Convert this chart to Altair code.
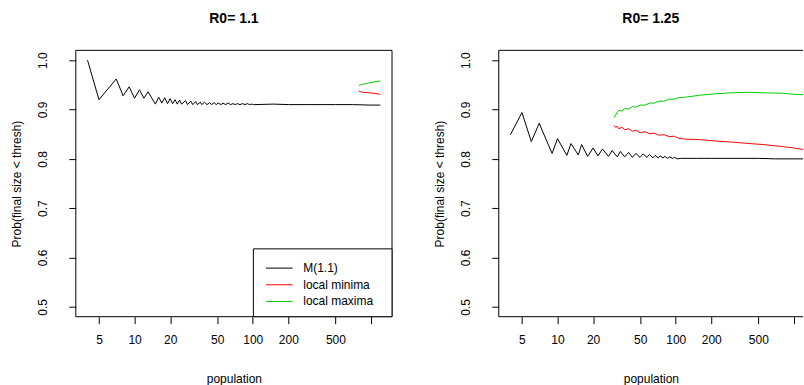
import altair as alt
import pandas as pd

# ---------------- data ----------------
# Left panel, R0 = 1.1
left_black_n = [4, 5, 7, 8, 9, 10, 11, 12, 13, 15, 16, 17, 18, 19, 20, 21, 22, 23, 24, 25,
                27, 28, 30, 31, 33, 34, 36, 37, 39, 41, 43, 45, 47, 49, 51, 54, 56, 59, 62, 65,
                68, 71, 74, 78, 82, 86, 90, 94, 98, 102, 104, 150, 200, 300, 400, 500, 700, 1000, 1200]
left_black_p = [1.000, 0.920, 0.962, 0.928, 0.946, 0.923, 0.940, 0.923, 0.936, 0.911, 0.925, 0.913, 0.924, 0.912, 0.922, 0.912, 0.920, 0.911, 0.919, 0.911,
                0.918, 0.910, 0.917, 0.910, 0.916, 0.910, 0.915, 0.910, 0.915, 0.910, 0.914, 0.910, 0.914, 0.910, 0.913, 0.910, 0.913, 0.910, 0.913, 0.910,
                0.912, 0.910, 0.912, 0.910, 0.912, 0.910, 0.912, 0.910, 0.911, 0.910, 0.910, 0.911, 0.910, 0.910, 0.910, 0.910, 0.910, 0.909, 0.909]
left_red_n = [790, 850, 960, 1050, 1200]
left_red_p = [0.937, 0.935, 0.934, 0.933, 0.931]
left_green_n = [790, 850, 960, 1050, 1200]
left_green_p = [0.949, 0.951, 0.954, 0.956, 0.958]

# Right panel, R0 = 1.25
right_black_n = [4, 5, 6, 7, 9, 10, 12, 13, 15, 16, 18, 20, 22, 24, 27, 29, 32, 34, 37, 40,
                 43, 46, 50, 53, 57, 60, 64, 67, 71, 74, 78, 81, 85, 89, 94, 98, 103, 110, 150, 200,
                 300, 500, 700, 1000, 1200]
right_black_p = [0.849, 0.894, 0.835, 0.872, 0.811, 0.841, 0.807, 0.831, 0.808, 0.829, 0.805, 0.822, 0.806, 0.820, 0.805, 0.817, 0.804, 0.815, 0.804, 0.813,
                 0.803, 0.811, 0.803, 0.810, 0.803, 0.809, 0.802, 0.807, 0.802, 0.806, 0.802, 0.805, 0.801, 0.804, 0.801, 0.803, 0.800, 0.801, 0.801, 0.801,
                 0.801, 0.801, 0.800, 0.800, 0.800]
right_red_n = [30, 31, 32, 33, 35, 37, 40, 43, 46, 50, 55, 60, 66, 72, 80, 88, 97, 105, 120, 159,
               220, 300, 420, 550, 800, 1000, 1200]
right_red_p = [0.868, 0.864, 0.866, 0.861, 0.864, 0.859, 0.861, 0.856, 0.858, 0.853, 0.855, 0.851, 0.852, 0.848, 0.849, 0.845, 0.846, 0.842, 0.840, 0.839,
               0.836, 0.834, 0.831, 0.829, 0.825, 0.822, 0.819]
right_green_n = [30, 31, 32, 33, 35, 37, 40, 43, 46, 50, 55, 60, 66, 72, 80, 88, 97, 105, 120, 159,
                 220, 300, 420, 550, 800, 1000, 1200]
right_green_p = [0.884, 0.889, 0.894, 0.898, 0.897, 0.902, 0.901, 0.906, 0.905, 0.909, 0.909, 0.913, 0.913, 0.917, 0.917, 0.921, 0.921, 0.924, 0.925, 0.929,
                 0.932, 0.934, 0.935, 0.934, 0.933, 0.931, 0.930]

x_ticks = [5, 10, 20, 50, 100, 200, 500, 1000]
y_ticks = [0.5, 0.6, 0.7, 0.8, 0.9, 1.0]
series_names = ["M", "local minima", "local maxima"]
series_colors = ["#000000", "#FF0000", "#00CD00"]

FONT = "Liberation Sans"
PX_PER_DECADE = 118.5
LOG_MIN = 0.503
X_MIN = 10 ** LOG_MIN
W_LEFT = 317
W_RIGHT = 305
H = 267


def frame(n_list, p_list, name):
    return pd.DataFrame({"N": n_list, "P": p_list, "series": name})


def panel(title, black, red, green, width, legend_label=None, right_border=True):
    df = pd.concat([frame(*black, "M"), frame(*red, "local minima"), frame(*green, "local maxima")],
                   ignore_index=True)
    x_max = 10 ** (LOG_MIN + width / PX_PER_DECADE)
    xs = alt.Scale(type="log", domain=[X_MIN, x_max], nice=False)
    ys = alt.Scale(domain=[0.48, 1.02], nice=False, zero=False)
    lines = alt.Chart(df).mark_line(strokeWidth=1, clip=True).encode(
        x=alt.X("N:Q", scale=xs, title="population",
                axis=alt.Axis(values=x_ticks, format="d",
                              labelExpr="datum.value == 1000 ? '' : datum.label",
                              grid=False, domain=False, tickSize=7, tickColor="black",
                              labelPadding=11, titlePadding=28, labelFlush=False,
                              labelOverlap=False)),
        y=alt.Y("P:Q", scale=ys, title="Prob(final size < thresh)",
                axis=alt.Axis(values=y_ticks, format=".1f", grid=False, domain=False,
                              tickSize=7, tickColor="black", labelAngle=270,
                              labelAlign="center", labelBaseline="bottom",
                              labelPadding=19, titlePadding=13)),
        color=alt.Color("series:N", scale=alt.Scale(domain=series_names, range=series_colors),
                        legend=None),
        order=alt.Order("N:Q"),
    )
    one = pd.DataFrame({"k": [0]})
    borders = [
        alt.Chart(one).mark_rule(color="black", strokeWidth=1).encode(
            x=alt.value(0), x2=alt.value(width), y=alt.value(0)),
        alt.Chart(one).mark_rule(color="black", strokeWidth=1).encode(
            x=alt.value(0), x2=alt.value(width), y=alt.value(H)),
        alt.Chart(one).mark_rule(color="black", strokeWidth=1).encode(
            x=alt.value(0), y=alt.value(0), y2=alt.value(H)),
    ]
    if right_border:
        borders.append(alt.Chart(one).mark_rule(color="black", strokeWidth=1).encode(
            x=alt.value(width), y=alt.value(0), y2=alt.value(H)))
    layers = [lines] + borders
    if legend_label is not None:
        labels = [legend_label, "local minima", "local maxima"]
        bx0, bx1, by0, by1 = 178, width, 199, H
        layers.append(alt.Chart(one).mark_rect(fill="white", stroke="black", strokeWidth=1).encode(
            x=alt.value(bx0), x2=alt.value(bx1), y=alt.value(by0), y2=alt.value(by1)))
        for i, (lab, col) in enumerate(zip(labels, series_colors)):
            yy = 218.3 + i * 16.7
            layers.append(alt.Chart(one).mark_rule(color=col, strokeWidth=1).encode(
                x=alt.value(190.7), x2=alt.value(217.3), y=alt.value(yy)))
            layers.append(alt.Chart(one).mark_text(text=lab, align="left", baseline="middle",
                                                   fontSize=12, font=FONT, color="black").encode(
                x=alt.value(228), y=alt.value(yy)))
    return alt.layer(*layers).properties(
        width=width, height=H,
        title=alt.TitleParams(title, fontSize=14, fontWeight="bold", font=FONT,
                              frame="group", anchor="middle", offset=24, color="black"),
    )


left = panel("R0= 1.1", (left_black_n, left_black_p), (left_red_n, left_red_p),
             (left_green_n, left_green_p), W_LEFT, legend_label="M(1.1)")
right = panel("R0= 1.25", (right_black_n, right_black_p), (right_red_n, right_red_p),
              (right_green_n, right_green_p), W_RIGHT, right_border=False)

chart = alt.hconcat(left, right, spacing=40).properties(
    padding={"left": 10, "top": 11, "right": 0, "bottom": 0},
    background="white",
).configure_view(stroke=None).configure_axis(
    labelFont=FONT, titleFont=FONT, labelFontSize=12, titleFontSize=12,
    labelColor="black", titleColor="black", titleFontWeight="normal",
)

chart.save("out.html", embed_options={"renderer": "svg", "actions": False})
